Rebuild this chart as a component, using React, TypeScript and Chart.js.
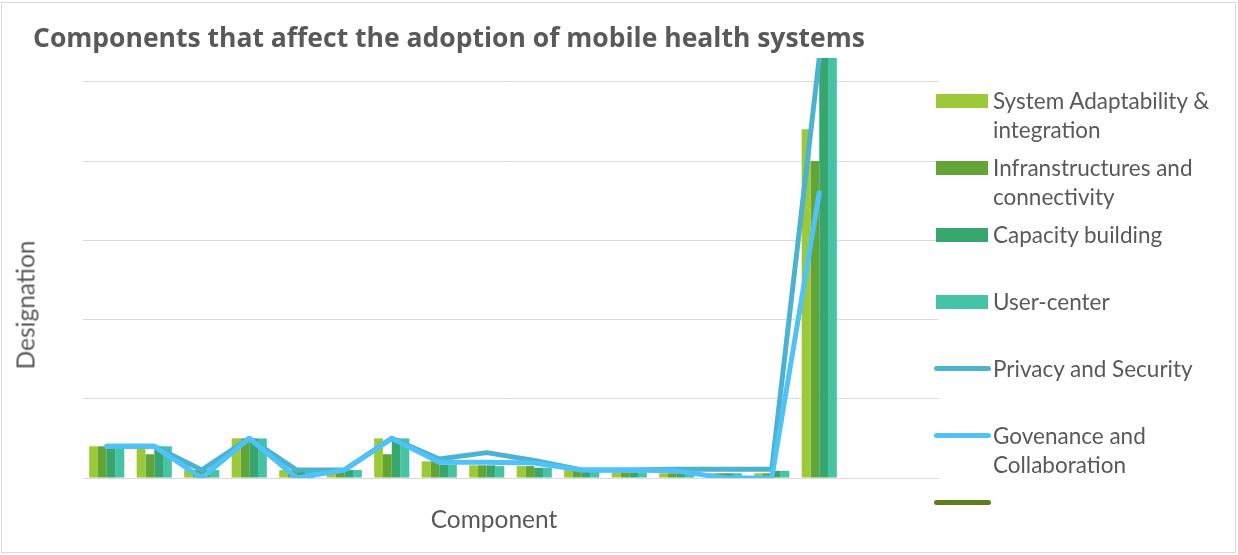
import React, { useEffect, useRef } from "react";
import { Chart, registerables } from "chart.js";

Chart.register(...registerables);

// Components along the horizontal axis (the last two slots carry no values)
const categories = [
  "C1", "C2", "C3", "C4", "C5", "C6", "C7", "C8", "C9",
  "C10", "C11", "C12", "C13", "C14", "C15", "C16", "C17", "C18",
];

const seriesNames = [
  "System Adaptability & integration",
  "Infranstructures and connectivity",
  "Capacity building",
  "User-center",
  "Privacy and Security",
  "Govenance and Collaboration",
  "",
];

const systemAdaptability = [4, 4, 1, 5, 1, 1, 5, 2.1, 1.6, 1.5, 1, 0.7, 0.6, 0.6, 0.6, 44, null, null];
const infrastructures = [4, 3, 1, 5, 1, 1, 3, 2.1, 1.6, 1.5, 0.9, 0.7, 0.6, 0.6, 0.6, 40, null, null];
const capacityBuilding = [4, 4, 1, 5, 1, 1, 5, 1.7, 1.6, 1.3, 0.8, 0.7, 0.6, 0.6, 0.9, 53, null, null];
const userCenter = [4, 4, 1, 5, 1, 1, 5, 1.7, 1.5, 1.3, 0.8, 0.7, 0.5, 0.6, 0.9, 53, null, null];
const privacySecurity = [4, 4, 1, 5, 1, 1, 5, 2.4, 3.2, 2.2, 1, 1, 1.1, 1.1, 1.1, 53, null, null];
const governance = [4, 4, 0, 5, 0, 1, 5, 2, 2, 1.9, 1, 1, 0.9, 0, 0, 36, null, null];
const unnamedSeries: (number | null)[] = categories.map(() => null);

const yMax = 53;
const yStep = 10;

const colors = ["#9BC93A", "#63A437", "#36A66E", "#45C3A4", "#4BB2D0", "#4FC3F7", "#5E7D1F"];
const kinds = ["bar", "bar", "bar", "bar", "line", "line", "line"];

const FONT = "Lato, 'Open Sans', sans-serif";
const TITLE_FONT = "'Open Sans', Lato, sans-serif";
const TEXT = "#595959";

export default function App() {
  const canvasRef = useRef<HTMLCanvasElement>(null);

  useEffect(() => {
    document.body.style.margin = "0";
    const canvas = canvasRef.current;
    if (!canvas) return;

    const barSet = (i: number, data: (number | null)[]) => ({
      type: "bar" as const,
      label: seriesNames[i],
      data,
      backgroundColor: colors[i],
      borderWidth: 0,
      categoryPercentage: 0.74,
      barPercentage: 1.0,
      order: 3,
    });
    const lineSet = (i: number, data: (number | null)[], order: number) => ({
      type: "line" as const,
      label: seriesNames[i],
      data,
      borderColor: colors[i],
      backgroundColor: colors[i],
      borderWidth: 5,
      pointRadius: 0,
      tension: 0,
      borderCapStyle: "round" as const,
      borderJoinStyle: "round" as const,
      fill: false,
      order,
    });

    const chart = new Chart(canvas, {
      type: "bar",
      data: {
        labels: categories,
        datasets: [
          barSet(0, systemAdaptability),
          barSet(1, infrastructures),
          barSet(2, capacityBuilding),
          barSet(3, userCenter),
          lineSet(4, privacySecurity, 2),
          lineSet(5, governance, 1),
          lineSet(6, unnamedSeries, 0),
        ] as any,
      },
      options: {
        animation: false,
        responsive: false,
        maintainAspectRatio: false,
        layout: { padding: { left: 83, top: 58, right: 300, bottom: 77 } },
        plugins: {
          legend: { display: false },
          tooltip: { enabled: false },
          title: { display: false },
        },
        scales: {
          x: {
            ticks: { display: false },
            grid: { display: false, drawTicks: false },
            border: { display: true, color: "#D9D9D9", width: 1 },
          },
          y: {
            min: 0,
            max: yMax,
            ticks: { display: false, stepSize: yStep },
            grid: { color: "#D9D9D9", lineWidth: 1, drawTicks: false },
            border: { display: false },
            afterBuildTicks: (scale: any) => {
              scale.ticks = scale.ticks.filter((t: any) => t.value % yStep === 0);
            },
          },
        },
      },
    });
    return () => chart.destroy();
  }, []);

  return (
    <div style={{ position: "relative", width: 1238, height: 555, background: "#fff", fontFamily: FONT, overflow: "hidden" }}>
      <div
        style={{
          position: "absolute", left: 1, top: 2, width: 1233, height: 549,
          border: "1px solid #D9D9D9",
        }}
      />
      <canvas ref={canvasRef} width={1238} height={555} style={{ position: "absolute", left: 0, top: 0 }} />
      <div
        style={{
          position: "absolute", left: 33, top: 21, fontSize: 26.5, lineHeight: "32px",
          fontFamily: TITLE_FONT, fontWeight: 700, color: TEXT, whiteSpace: "nowrap",
        }}
      >
        Components that affect the adoption of mobile health systems
      </div>
      <div
        style={{
          position: "absolute", left: 25, top: 305, transform: "translate(-50%, -50%) rotate(-90deg)",
          fontSize: 24.5, color: TEXT, whiteSpace: "nowrap",
        }}
      >
        Designation
      </div>
      <div
        style={{
          position: "absolute", left: 494, top: 518, transform: "translate(-50%, -50%)",
          fontSize: 24.5, color: TEXT, whiteSpace: "nowrap",
        }}
      >
        Component
      </div>
      {seriesNames.map((name, i) => {
        const top = 86 + 67 * i;
        const isBar = kinds[i] === "bar";
        return (
          <div key={i} style={{ position: "absolute", left: 0, top, width: 1238 }}>
            {isBar ? (
              <div style={{ position: "absolute", left: 936, top: 8, width: 52, height: 14, background: colors[i] }} />
            ) : (
              <div style={{ position: "absolute", left: 934, top: 12, width: 57, height: 5, borderRadius: 3, background: colors[i] }} />
            )}
            <div
              style={{
                position: "absolute", left: 993, top: 0, width: 238, fontSize: 22.5,
                lineHeight: "29px", color: TEXT,
              }}
            >
              {name}
            </div>
          </div>
        );
      })}
    </div>
  );
}
